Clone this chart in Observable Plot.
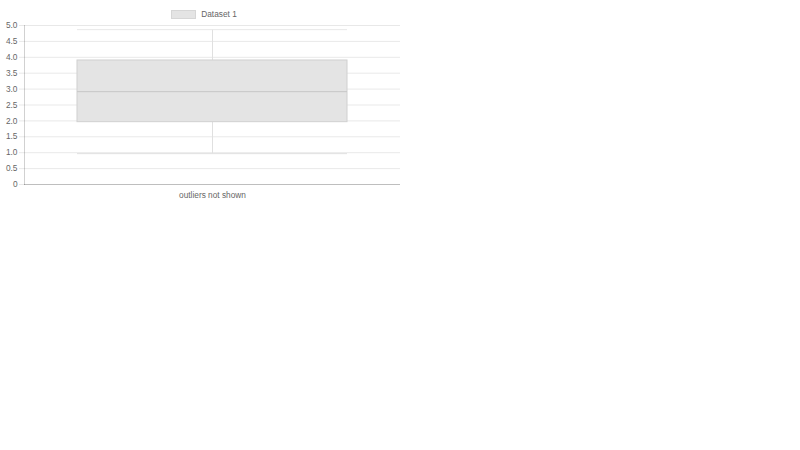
<!DOCTYPE html>
<html>
<head>
<meta charset="utf-8">
<script src="https://cdn.jsdelivr.net/npm/d3@7"></script>
<script src="https://cdn.jsdelivr.net/npm/@observablehq/plot@0.6"></script>
<style>
  body { margin: 0; background: #fff; font-family: "Liberation Sans", Arial, Helvetica, sans-serif; }
  #wrap { width: 400px; }
  #legend { height: 20px; display: flex; justify-content: center; align-items: center; font-size: 8.3px; color: #666; padding-top: 8px; box-sizing: border-box; padding-left: 8px; }
  #legend .sw { width: 23px; height: 7px; background: #e4e4e4; border: 1px solid #d6d6d6; margin-right: 5px; }
</style>
</head>
<body>
<div id="wrap">
  <div id="legend"><span class="sw"></span><span>Dataset 1</span></div>
  <div id="chart"></div>
</div>
<script>
const categories = ["outliers not shown"];
const minValues = [0.97];
const q1Values = [1.96];
const medianValues = [2.92];
const q3Values = [3.9];
const maxValues = [4.87];
const yTicks = [0, 0.5, 1, 1.5, 2, 2.5, 3, 3.5, 4, 4.5, 5];
const yTickLabels = ["0", "0.5", "1.0", "1.5", "2.0", "2.5", "3.0", "3.5", "4.0", "4.5", "5.0"];

const data = categories.map((c, i) => ({
  cat: c, min: minValues[i], q1: q1Values[i], med: medianValues[i], q3: q3Values[i], max: maxValues[i]
}));

const chart = Plot.plot({
  width: 400,
  height: 186,
  marginTop: 5,
  marginLeft: 24,
  marginRight: 0,
  marginBottom: 22,
  style: { fontFamily: "Liberation Sans, Arial, Helvetica, sans-serif", fontSize: "8.3px", color: "#666", background: "#fff" },
  x: { domain: categories, padding: 0.163, label: null },
  y: { domain: [0, 5], label: null },
  marks: [
    Plot.gridY(yTicks, { stroke: "#000", strokeOpacity: 0.09 }),
    Plot.axisY({ ticks: yTicks, tickFormat: (d) => yTickLabels[yTicks.indexOf(d)], tickSize: 5, tickPadding: 2, stroke: "#000", strokeOpacity: 0.09, fill: "#666", label: null }),
    Plot.axisX({ tickSize: 0, tickPadding: 8, fill: "#666", label: null }),
    Plot.ruleX(data, { x: "cat", y1: "min", y2: "q1", stroke: "#e0e0e0", strokeWidth: 1 }),
    Plot.ruleX(data, { x: "cat", y1: "q3", y2: "max", stroke: "#e0e0e0", strokeWidth: 1 }),
    Plot.tickY(data, { x: "cat", y: "min", stroke: "#e0e0e0", strokeWidth: 1 }),
    Plot.tickY(data, { x: "cat", y: "max", stroke: "#e8e8e8", strokeWidth: 1 }),
    Plot.barY(data, { x: "cat", y1: "q1", y2: "q3", fill: "#e4e4e4", stroke: "#d0d0d0", strokeWidth: 1 }),
    Plot.tickY(data, { x: "cat", y: "med", stroke: "#c8c8c8", strokeWidth: 1 }),
    Plot.ruleY([0], { stroke: "#000", strokeOpacity: 0.18 }),
    Plot.frame({ anchor: "left", stroke: "#000", strokeOpacity: 0.18 })
  ]
});
document.getElementById("chart").appendChild(chart);
</script>
</body>
</html>
